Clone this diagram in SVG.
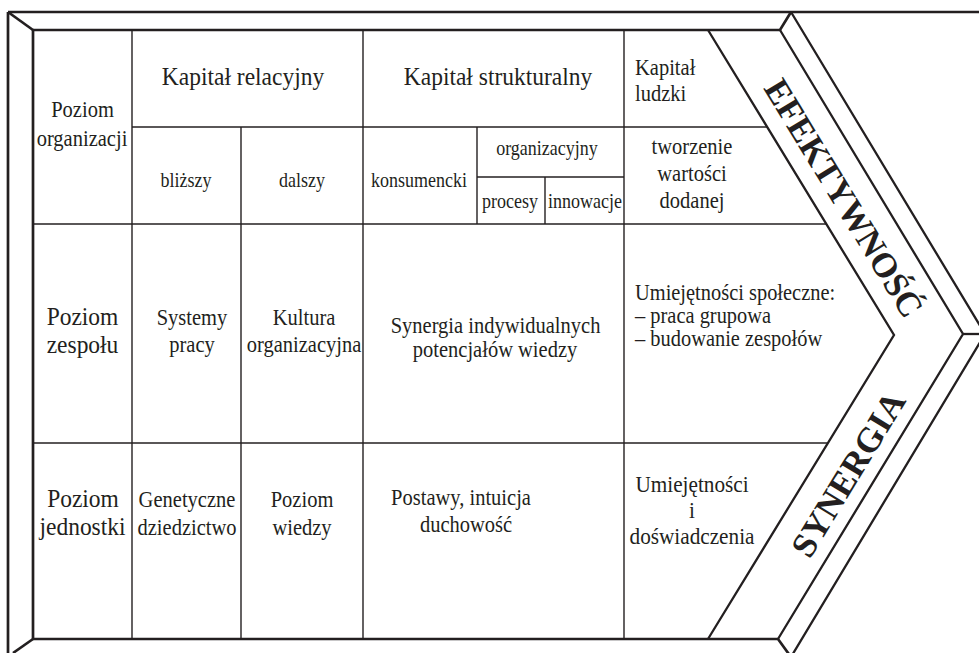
<svg xmlns="http://www.w3.org/2000/svg" width="979" height="653" viewBox="0 0 979 653">
<style>
.frame{fill:none;stroke:#231f20;stroke-width:2.7;stroke-linejoin:miter}
.band{fill:none;stroke:#231f20;stroke-width:2.3;stroke-linejoin:miter}
.grid{fill:none;stroke:#231f20;stroke-width:1.4}
text{font-family:"Liberation Serif","Times New Roman",Times,serif;fill:#231f20}
.c{text-anchor:middle}
.big{font-size:26.1px}
.mid{font-size:22.8px}
.mid2{font-size:23.6px}
.mid3{font-size:22.2px}
.sm{font-size:20px}
.bold{font-weight:bold;font-size:35px;text-anchor:middle}
</style>
<rect width="979" height="653" fill="#ffffff"/>
<g id="connectors">
  <g id="frame">
    <path class="frame" d="M8,12 H979"/>
    <path class="frame" d="M8,12 V653"/>
    <path class="frame" d="M8,12 L33,30"/>
    <path class="frame" d="M33,30 H780 L791,12"/>
    <path class="frame" d="M33,30 V639 H778 L791,657"/>
    <path class="frame" d="M33,639 L13,653"/>
    <path class="band" d="M780,30 L963,334 L778,639"/>
    <path class="band" d="M791,12 L985,334 L791,657"/>
    <path class="band" d="M963,334 H979"/>
    <path class="band" d="M708,30 L894,335 L708,639"/>
  </g>
  <g id="grid">
    <path class="grid" d="M132,30 V639"/>
    <path class="grid" d="M241,127 V639"/>
    <path class="grid" d="M363,30 V639"/>
    <path class="grid" d="M624,30 V639"/>
    <path class="grid" d="M477,127 V224"/>
    <path class="grid" d="M545,177 V224"/>
    <path class="grid" d="M132,127 H767"/>
    <path class="grid" d="M477,177 H624"/>
    <path class="grid" d="M33,224 H826"/>
    <path class="grid" d="M33,443 H828"/>
  </g>
</g>
<g id="poziom-organizacji"><text class="c mid" transform="translate(82.5,117) scale(0.9,1)">Poziom</text><text class="c mid" transform="translate(82,146) scale(0.9,1)">organizacji</text></g>
<g id="kapital-relacyjny"><text class="c big" transform="translate(243,85) scale(0.9,1)">Kapitał relacyjny</text></g>
<g id="kapital-strukturalny"><text class="c big" transform="translate(498,85) scale(0.9,1)">Kapitał strukturalny</text></g>
<g id="kapital-ludzki"><text class="mid" transform="translate(635,75) scale(0.9,1)">Kapitał</text><text class="mid" transform="translate(635,101) scale(0.9,1)">ludzki</text></g>
<g id="blizszy"><text class="c sm" transform="translate(186,187) scale(0.9,1)">bliższy</text></g>
<g id="dalszy"><text class="c sm" transform="translate(302,187) scale(0.9,1)">dalszy</text></g>
<g id="konsumencki"><text class="c sm" transform="translate(419,187) scale(0.9,1)">konsumencki</text></g>
<g id="organizacyjny"><text class="c sm" transform="translate(547,155) scale(0.9,1)">organizacyjny</text></g>
<g id="procesy"><text class="c sm" transform="translate(510,208) scale(0.9,1)">procesy</text></g>
<g id="innowacje"><text class="c sm" transform="translate(585,208) scale(0.9,1)">innowacje</text></g>
<g id="tworzenie"><text class="c mid" transform="translate(692,154) scale(0.9,1)">tworzenie</text><text class="c mid" transform="translate(692,181) scale(0.9,1)">wartości</text><text class="c mid" transform="translate(692,208) scale(0.9,1)">dodanej</text></g>
<g id="poziom-zespolu"><text class="c big" transform="translate(82.5,325) scale(0.9,1)">Poziom</text><text class="c big" transform="translate(82.5,353) scale(0.9,1)">zespołu</text></g>
<g id="systemy-pracy"><text class="c mid" transform="translate(192,325) scale(0.9,1)">Systemy</text><text class="c mid" transform="translate(192,352) scale(0.9,1)">pracy</text></g>
<g id="kultura"><text class="c mid" transform="translate(304,325) scale(0.9,1)">Kultura</text><text class="c mid" transform="translate(304,352) scale(0.9,1)">organizacyjna</text></g>
<g id="synergia-potencjalow"><text class="c mid" transform="translate(495.5,333) scale(0.9,1)">Synergia indywidualnych</text><text class="c mid" transform="translate(495,357) scale(0.9,1)">potencjałów wiedzy</text></g>
<g id="umiejetnosci-spoleczne"><text class="mid3" transform="translate(635,300) scale(0.92,1)">Umiejętności społeczne:</text><text class="mid3" transform="translate(635,323) scale(0.92,1)">– praca grupowa</text><text class="mid3" transform="translate(635,346) scale(0.92,1)">– budowanie zespołów</text></g>
<g id="poziom-jednostki"><text class="c big" transform="translate(83,507) scale(0.9,1)">Poziom</text><text class="c big" transform="translate(82.5,535) scale(0.9,1)">jednostki</text></g>
<g id="genetyczne"><text class="c mid" transform="translate(187,507) scale(0.9,1)">Genetyczne</text><text class="c mid" transform="translate(187,535) scale(0.9,1)">dziedzictwo</text></g>
<g id="poziom-wiedzy"><text class="c mid" transform="translate(302,507) scale(0.9,1)">Poziom</text><text class="c mid" transform="translate(302,535) scale(0.9,1)">wiedzy</text></g>
<g id="postawy"><text class="c mid" transform="translate(461,505) scale(0.9,1)">Postawy, intuicja</text><text class="c mid" transform="translate(466,532) scale(0.9,1)">duchowość</text></g>
<g id="umiejetnosci-doswiadczenia"><text class="c mid2" transform="translate(692,492) scale(0.9,1)">Umiejętności</text><text class="c mid2" transform="translate(692,518) scale(0.9,1)">i</text><text class="c mid2" transform="translate(692,544) scale(0.9,1)">doświadczenia</text></g>
<g id="efektywnosc"><text class="bold" transform="translate(844,198) rotate(58.6)" y="12" textLength="272" lengthAdjust="spacingAndGlyphs">EFEKTYWNOŚĆ</text></g>
<g id="synergia"><text class="bold" transform="translate(848,474) rotate(-58.6)" y="12" textLength="186" lengthAdjust="spacingAndGlyphs">SYNERGIA</text></g>
</svg>
